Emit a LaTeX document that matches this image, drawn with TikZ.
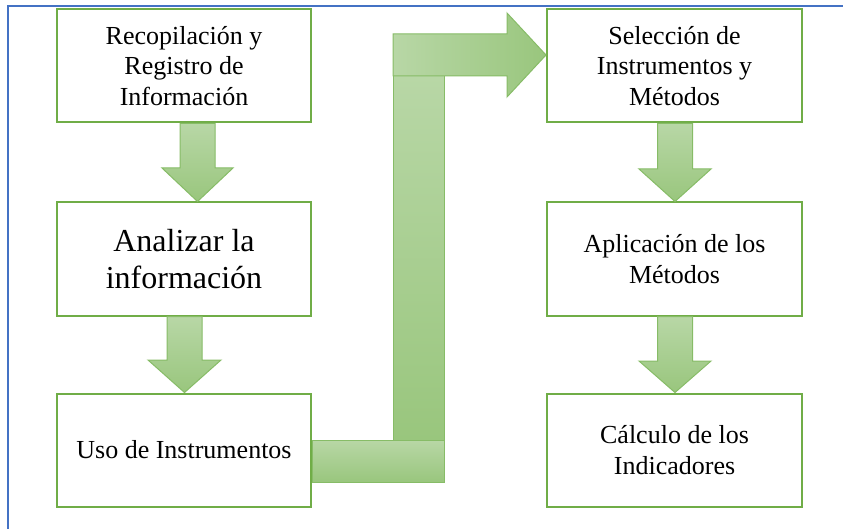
\documentclass[tikz,border=0pt]{standalone}
\usepackage{fontspec}
\setmainfont{Liberation Serif}
\definecolor{boxgreen}{RGB}{112,173,71}
\definecolor{arrlight}{RGB}{184,215,166}
\definecolor{arrdark}{RGB}{153,198,125}
\definecolor{arredge}{RGB}{135,188,103}
\definecolor{frameblue}{RGB}{68,114,196}
\tikzset{
  stepbox/.style={draw=boxgreen, line width=2pt, fill=white, minimum height=113pt,
    align=center, inner sep=2pt, font=\fontsize{26}{30.5}\selectfont},
  leftbox/.style={stepbox, minimum width=254pt},
  rightbox/.style={stepbox, minimum width=255pt},
  vfill/.style={top color=arrlight, bottom color=arrdark, draw=arredge, line width=1pt},
  hfill/.style={left color=arrlight, right color=arrdark, draw=arredge, line width=1pt},
}
\begin{document}
\begin{tikzpicture}[x=1pt,y=-1pt]
\useasboundingbox (0,0) rectangle (843,529);
% frame lines
\draw[frameblue, line width=1.8pt] (8,529) -- (8,6) -- (843,6);

% boxes
\node[leftbox] (l1) at (184,66) {Recopilación y\\Registro de\\Información};
\node[leftbox, font=\fontsize{32}{37}\selectfont] (l2) at (184,259) {Analizar la\\información};
\node[leftbox] (l3) at (184,450) {Uso de Instrumentos};
\node[rightbox] (r1) at (674.5,66) {Selección de\\Instrumentos y\\Métodos};
\node[rightbox] (r2) at (674.5,259) {Aplicación de los\\Métodos};
\node[rightbox] (r3) at (674.5,450) {Cálculo de los\\Indicadores};

% down block arrows
\shade[vfill] (180,0 |- l1.south) -- (215,0 |- l1.south) -- (215,168) -- (233,168)
  -- (197.5,0 |- l2.north) -- (162,168) -- (180,168) -- cycle;
\shade[vfill] (167,0 |- l2.south) -- (202,0 |- l2.south) -- (202,360) -- (221,360)
  -- (184.5,0 |- l3.north) -- (148,360) -- (167,360) -- cycle;
\shade[vfill] (657.5,0 |- r1.south) -- (692.5,0 |- r1.south) -- (692.5,169) -- (711,169)
  -- (675,0 |- r2.north) -- (639,169) -- (657.5,169) -- cycle;
\shade[vfill] (657.5,0 |- r2.south) -- (692.5,0 |- r2.south) -- (692.5,361) -- (711,361)
  -- (675,0 |- r3.north) -- (639,361) -- (657.5,361) -- cycle;

% bent block arrow from l3 to r1
\shade[vfill] (393,76) rectangle (444,440);
\shade[vfill] (l3.east |- 0,440) -- (444,440) -- (444,482) -- (l3.east |- 0,482) -- cycle;
\shade[hfill] (393,34) -- (507,34) -- (507,13) -- (r1.west |- 0,55) -- (507,97)
  -- (507,76) -- (393,76) -- cycle;
\end{tikzpicture}
\end{document}
